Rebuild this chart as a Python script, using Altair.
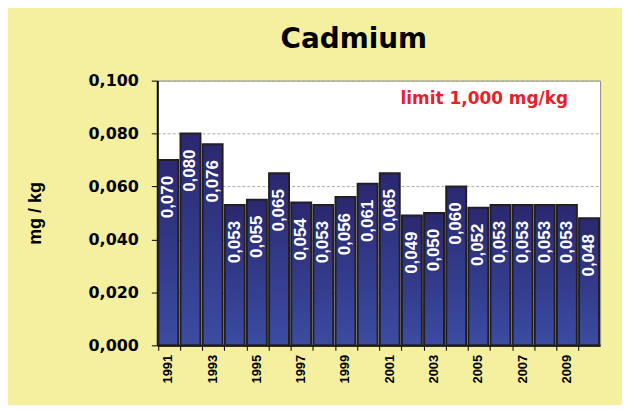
import altair as alt
import pandas as pd

years = ["1991", "1992", "1993", "1994", "1995", "1996", "1997", "1998", "1999", "2000",
         "2001", "2002", "2003", "2004", "2005", "2006", "2007", "2008", "2009", "2010"]
values = [0.070, 0.080, 0.076, 0.053, 0.055, 0.065, 0.054, 0.053, 0.056, 0.061,
          0.065, 0.049, 0.050, 0.060, 0.052, 0.053, 0.053, 0.053, 0.053, 0.048]
y_ticks = [0.0, 0.02, 0.04, 0.06, 0.08, 0.10]

title_text = "Cadmium"
y_title = "mg / kg"
note_text = ["limit 1,000 mg/kg"]
note_year = ["2005"]
note_value = [0.093]

FONT = "Liberation Sans"
WIDE = "DejaVu Sans"

df = pd.DataFrame({"year": years, "value": values})
df["label"] = [f"{v:.3f}".replace(".", ",") for v in values]
note_df = pd.DataFrame({"year": note_year, "value": note_value, "text": note_text})

x_enc = alt.X(
    "year:N", sort=years,
    scale=alt.Scale(paddingInner=0.1, paddingOuter=0.05),
    axis=alt.Axis(
        title=None, labelAngle=-90,
        labelExpr="toNumber(datum.value) % 2 == 1 ? datum.label : ''",
        labelFont=FONT, labelFontWeight="bold", labelFontSize=13, labelColor="black",
        bandPosition=0, tickColor="black", tickSize=5, domainColor="black",
        domainWidth=2, labelPadding=4, grid=False,
    ),
)
y_enc = alt.Y(
    "value:Q",
    scale=alt.Scale(domain=[0, 0.1], nice=False),
    axis=alt.Axis(
        title=y_title, values=y_ticks,
        labelExpr="replace(format(datum.value, '.3f'), '.', ',')",
        labelFont=WIDE, labelFontWeight="bold", labelFontSize=16, labelColor="black",
        labelPadding=13, tickSize=6, tickColor="black", domainColor="black", domainWidth=2,
        grid=True, gridDash=[3, 2], gridColor="#a8a8a8", gridWidth=1,
        titleFont=FONT, titleFontWeight="bold", titleFontSize=18, titleColor="black",
        titlePadding=44,
    ),
)

gradient = alt.Gradient(
    gradient="linear",
    stops=[alt.GradientStop(color="#2a2870", offset=0),
           alt.GradientStop(color="#3b4ca2", offset=1)],
    x1=1, x2=1, y1=0, y2=1,
)

bars = alt.Chart(df).mark_bar(fill=gradient, stroke="#231f20", strokeWidth=2).encode(
    x=x_enc, y=y_enc
)

labels = alt.Chart(df).mark_text(
    angle=270, align="right", baseline="middle", dx=-16,
    color="white", font=FONT, fontWeight="bold", fontSize=17,
).encode(x=alt.X("year:N", sort=years), y="value:Q", text="label:N")

note = alt.Chart(note_df).mark_text(
    align="center", baseline="middle", color="#e8202a", dx=6,
    font=WIDE, fontWeight="bold", fontSize=17,
).encode(x=alt.X("year:N", sort=years), y="value:Q", text="text:N")

chart = alt.layer(bars, labels, note).properties(
    width=445, height=266,
    title=alt.TitleParams(title_text, fontSize=28, font=WIDE, fontWeight="bold",
                          color="black", anchor="middle", dx=-25, offset=19),
    autosize=alt.AutoSizeParams(type="none"),
    padding={"left": 150, "top": 72, "right": 22, "bottom": 59},
    background="#f4f0a0",
).configure_view(fill="white", stroke="#888888", strokeWidth=1)

chart.save("out.html", embed_options={"renderer": "svg", "actions": False})
